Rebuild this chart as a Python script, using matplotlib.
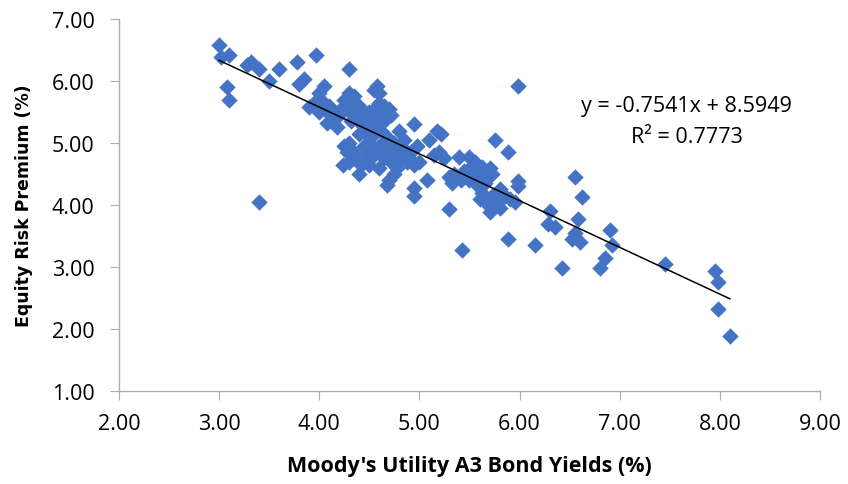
import matplotlib
matplotlib.use("Agg")
import matplotlib.pyplot as plt
import numpy as np

# Данные: доходность облигаций (x) и премия за риск (y)
bond_yield = [
    3.00, 3.02, 3.10, 3.08, 3.10, 3.28, 3.32, 3.40, 3.50, 3.60,
    3.78, 3.80, 3.85, 3.90, 3.97, 3.40, 4.00, 4.05, 4.02, 4.05,
    4.10, 4.08, 4.20, 4.25, 4.30, 4.30, 4.35, 4.28, 4.30, 4.25,
    4.28, 4.24, 4.30, 4.38, 4.40, 4.42, 4.45, 4.40, 4.50, 4.50,
    4.55, 4.58, 4.55, 4.60, 4.62, 4.60, 4.55, 4.60, 4.65, 4.68,
    4.70, 4.70, 4.72, 4.75, 4.78, 4.75, 4.80, 4.85, 4.90, 4.95,
    4.95, 4.98, 4.95, 4.95, 5.08, 5.10, 5.18, 5.22, 5.15, 5.20,
    5.30, 5.33, 5.35, 5.40, 5.42, 5.43, 5.50, 5.55, 5.55, 5.60,
    5.60, 5.65, 5.65, 5.70, 5.70, 5.72, 5.75, 5.78, 5.80, 5.80,
    5.88, 5.88, 5.90, 5.95, 5.98, 5.98, 5.98, 6.15, 6.28, 6.30,
    6.35, 6.42, 6.52, 6.55, 6.55, 6.58, 6.60, 6.62, 6.80, 6.85,
    6.90, 6.92, 7.45, 7.95, 7.98, 7.98, 8.10,
    4.15, 4.18, 4.22, 4.32, 4.35, 4.38, 4.40, 4.45, 4.48, 4.50,
    4.52, 4.55, 4.58, 4.62, 4.65, 4.68, 4.70, 4.45, 4.48, 4.52,
    4.62, 4.65, 4.72, 4.78, 4.80, 4.35, 4.42, 4.50, 4.00, 3.95,
    4.12, 4.60, 4.65, 4.40, 4.30,
    5.45, 5.50, 5.58, 5.62, 5.68, 5.72, 5.75, 5.85, 5.52, 5.62,
    5.25, 5.30, 4.88, 4.92, 5.00, 4.85,
]
risk_premium = [
    6.58, 6.38, 6.42, 5.90, 5.70, 6.25, 6.30, 6.20, 6.00, 6.20,
    6.30, 5.95, 6.03, 5.58, 6.42, 4.05, 5.80, 5.92, 5.70, 5.55,
    5.60, 5.32, 5.45, 5.70, 6.20, 5.80, 5.75, 5.55, 5.00, 4.95,
    4.85, 4.65, 4.70, 4.72, 4.50, 5.30, 5.20, 5.60, 5.50, 5.00,
    5.85, 5.92, 5.40, 5.65, 5.50, 4.95, 4.80, 4.60, 4.75, 4.33,
    4.40, 5.55, 5.45, 5.00, 4.85, 4.50, 5.20, 4.90, 4.75, 4.65,
    5.30, 4.95, 4.28, 4.15, 4.40, 5.05, 5.20, 5.15, 4.80, 4.85,
    3.93, 4.35, 4.50, 4.78, 4.40, 3.27, 4.78, 4.70, 4.45, 4.55,
    4.10, 4.35, 4.05, 4.60, 3.88, 4.50, 5.05, 4.05, 4.25, 3.95,
    3.45, 4.85, 4.10, 4.05, 4.38, 4.30, 5.92, 3.35, 3.70, 3.90,
    3.65, 2.98, 3.45, 4.45, 3.55, 3.78, 3.40, 4.13, 2.98, 3.15,
    3.60, 3.35, 3.05, 2.93, 2.75, 2.32, 1.88,
    5.40, 5.25, 5.55, 5.35, 5.50, 5.60, 5.15, 5.45, 5.35, 5.25,
    5.10, 5.55, 5.30, 5.20, 5.35, 5.10, 4.90, 4.95, 4.80, 4.90,
    4.85, 5.00, 4.70, 4.60, 4.75, 4.85, 4.65, 4.65, 5.50, 5.65,
    5.45, 5.80, 5.60, 5.40, 5.60,
    4.55, 4.40, 4.30, 4.20, 4.45, 4.15, 4.00, 4.15, 4.62, 4.62,
    4.75, 4.45, 4.70, 4.85, 4.70, 5.05,
]

x_ticks = [2, 3, 4, 5, 6, 7, 8, 9]
y_ticks = [1, 2, 3, 4, 5, 6, 7]

x = np.array(bond_yield)
y = np.array(risk_premium)

# линия тренда по коэффициентам из подписи
slope, intercept = -0.7541, 8.5949
r2 = 0.7773

plt.rcParams["font.family"] = ["Open Sans", "DejaVu Sans"]

fig = plt.figure(figsize=(8.48, 4.85), dpi=100)
ax = fig.add_axes([0.1403, 0.1918, 0.8267, 0.767])

ax.scatter(x, y, marker="D", s=70, color="#4472C4", linewidths=0, zorder=2)

xt = np.array([x.min(), x.max()])
ax.plot(xt, slope * xt + intercept, color="black", lw=1.1, zorder=3)

ax.text(7.67, 5.61, f"y = {slope:.4f}x + {intercept:.4f}", ha="center",
        va="center", fontsize=15.5)
ax.text(7.67, 5.10, f"R² = {r2:.4f}", ha="center", va="center", fontsize=15.5)

ax.set_xlim(2, 9)
ax.set_ylim(1, 7)
ax.set_xticks(x_ticks)
ax.set_yticks(y_ticks)
ax.set_xticklabels([f"{v:.2f}" for v in x_ticks])
ax.set_yticklabels([f"{v:.2f}" for v in y_ticks])
ax.tick_params(labelsize=15.5, length=6.5, color="#ADADAD")
ax.tick_params(axis="y", pad=11)
ax.tick_params(axis="x", pad=9)

for side in ["top", "right"]:
    ax.spines[side].set_visible(False)
for side in ["left", "bottom"]:
    ax.spines[side].set_color("#ADADAD")
    ax.spines[side].set_linewidth(1)

ax.set_xlabel("Moody's Utility A3 Bond Yields (%)", fontsize=15.5,
              fontweight="bold", va="center")
ax.xaxis.set_label_coords(0.5, -0.2016)
ax.set_ylabel("Equity Risk Premium (%)", fontsize=12.5, fontweight="bold",
              family="DejaVu Sans", va="center")
ax.yaxis.set_label_coords(-0.136, 0.5)

fig.savefig("out.png", dpi=100)
